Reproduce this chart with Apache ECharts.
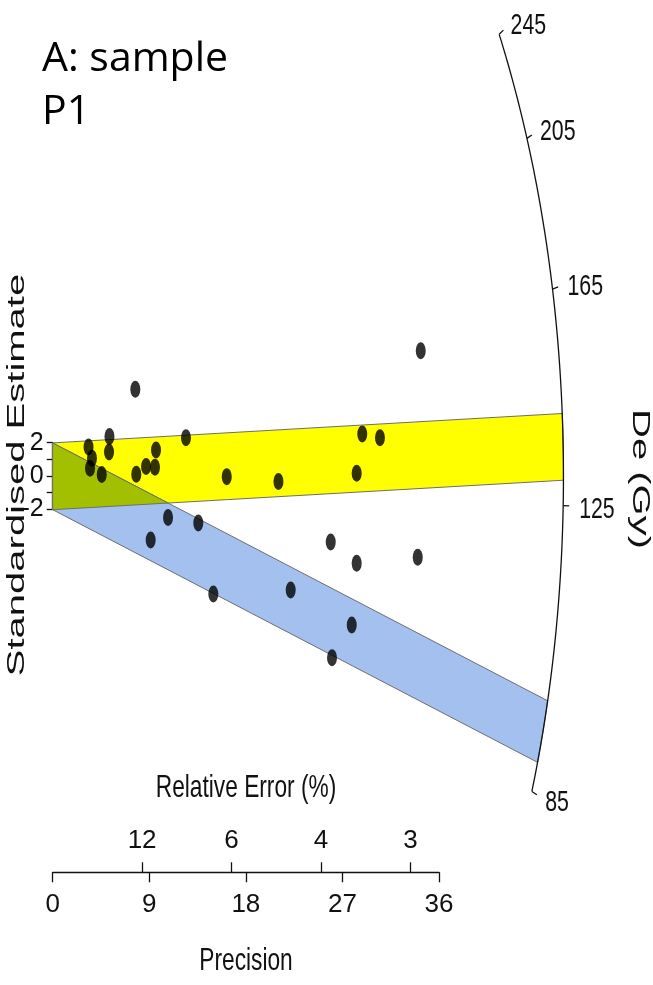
<!DOCTYPE html>
<html>
<head>
<meta charset="utf-8">
<script src="https://cdn.jsdelivr.net/npm/echarts@6/dist/echarts.min.js"></script>
<style>
  html, body { margin: 0; padding: 0; background: #fff; }
  #chart { width: 653px; height: 985px; }
</style>
</head>
<body>
<div id="chart"></div>
<script>
// radial plot of De values (sample P1): each aliquot as precision (1/se) vs standardised estimate
const precision = [7.70, 3.34, 5.29, 5.25, 3.66, 3.48, 4.57, 9.63, 8.70, 9.53, 7.79, 12.42, 16.22, 21.04,
  10.75, 13.57, 9.13, 14.97, 22.18, 25.91, 28.33, 34.02, 27.87, 26.03, 34.30, 28.85, 30.50, 28.33]
const stdEstimate = [5.21, 1.75, 2.38, 1.46, 1.08, 0.48, 0.11, 1.57, 0.58, 0.54, 0.12, 2.31, -0.02, -0.31,
  -2.47, -2.80, -3.81, -7.05, -6.81, -3.93, -5.21, -4.85, -8.90, -10.86, 7.52, 2.53, 2.31, 0.18]

const centralDe = 129.7          // reference value of the z-scale (Gy)
const componentDe = [134.6, 92.8] // the two shaded ±2 bands
const componentColors = ["#ffff00", "#a3c0ee"]
const deTicks = [85, 125, 165, 205, 245]
const relErrorTicks = [12, 6, 4, 3]
const precisionTicks = [0, 9, 18, 27, 36]

// arc of the De scale: ellipse in (precision, z) units
const ARC_X = 47.6
const ARC_Z = 54.5
const HALF = 2
// the source figure was squeezed sideways, so text is drawn condensed
const SQUEEZE = 0.71

const SANS = "'Liberation Sans', Arial, sans-serif"

const arcPoint = (u) => {
  const x = 1 / Math.sqrt(1 / (ARC_X * ARC_X) + (u * u) / (ARC_Z * ARC_Z))
  return [x, u * x]
}
// where the line z = c + s*x meets the arc
const arcHit = (c, s) => {
  const A = 1 / (ARC_X * ARC_X) + (s * s) / (ARC_Z * ARC_Z)
  const B = (2 * c * s) / (ARC_Z * ARC_Z)
  const C = (c * c) / (ARC_Z * ARC_Z) - 1
  const x = (-B + Math.sqrt(B * B - 4 * A * C)) / (2 * A)
  return [x, c + s * x]
}
const bandPolygon = (de) => {
  const s = Math.log(de / centralDe)
  const top = arcHit(HALF, s)
  const bot = arcHit(-HALF, s)
  const u0 = top[1] / top[0]
  const u1 = bot[1] / bot[0]
  const pts = [[0, HALF], top]
  for (let k = 1; k < 16; k++) pts.push(arcPoint(u0 + ((u1 - u0) * k) / 16))
  pts.push(bot, [0, -HALF])
  return pts
}
// triangle where the two bands overlap (upper band's lower edge meets lower band's upper edge)
const overlapPolygon = () => {
  const s1 = Math.log(componentDe[0] / centralDe)
  const s2 = Math.log(componentDe[1] / centralDe)
  const x = (2 * HALF) / (s1 - s2)
  return [[0, HALF], [x, -HALF + s1 * x], [0, -HALF]]
}
// overlap looks like the two transparent fills multiplied together
const multiply = (a, b) => {
  const ca = echarts.color.parse(a)
  const cb = echarts.color.parse(b)
  return echarts.color.stringify([0, 1, 2].map((i) => Math.round((ca[i] * cb[i]) / 255)).concat(1), "rgba")
}

const chart = echarts.init(document.getElementById("chart"), null, { renderer: "canvas" })

chart.setOption({
  animation: false,
  backgroundColor: "#ffffff",
  grid: [
    { left: 52.7, width: 536.5, top: 8.7, bottom: 174.7, containLabel: false, outerBoundsMode: "none" },
    { left: 52.7, width: 386.3, bottom: 112.7, height: 20, containLabel: false, outerBoundsMode: "none" },
    { left: 52.7, width: 10, top: 442.7, bottom: 475.7, containLabel: false, outerBoundsMode: "none" },
  ],
  xAxis: [
    { gridIndex: 0, type: "value", min: 0, max: 50, show: false },
    {
      gridIndex: 1, type: "value", position: "bottom", min: precisionTicks[0],
      max: precisionTicks[precisionTicks.length - 1], interval: precisionTicks[1] - precisionTicks[0],
      axisLine: { lineStyle: { color: "#111", width: 1.3 } },
      axisTick: { length: 10, lineStyle: { color: "#111", width: 1.3 } },
      axisLabel: { margin: 20, color: "#111", fontFamily: SANS, fontSize: 26 },
      splitLine: { show: false },
    },
    {
      gridIndex: 1, type: "value", position: "bottom", min: 0, max: 36,
      axisLine: { show: false },
      axisTick: {
        inside: true, length: 10, lineStyle: { color: "#111", width: 1.3 },
        customValues: relErrorTicks.map((r) => 100 / r),
      },
      axisLabel: {
        inside: true, margin: 18, color: "#111", fontFamily: SANS, fontSize: 26,
        customValues: relErrorTicks.map((r) => 100 / r),
        formatter: (v) => String(Math.round(100 / v)),
      },
      splitLine: { show: false },
    },
    { gridIndex: 2, type: "value", show: false },
  ],
  yAxis: [
    { gridIndex: 0, type: "value", min: -20, max: 28, show: false },
    { gridIndex: 1, type: "value", show: false },
    {
      gridIndex: 2, type: "value", min: -2, max: 2, interval: 2,
      axisLine: { show: true, lineStyle: { color: "#111", width: 1.3 } },
      axisTick: { show: true, length: 6, lineStyle: { color: "#111", width: 1.3 } },
      minorTick: { show: true, splitNumber: 2, length: 6, lineStyle: { color: "#111", width: 1.3 } },
      axisLabel: { margin: 9, color: "#111", fontFamily: SANS, fontSize: 25 },
      splitLine: { show: false },
    },
  ],
  graphic: [
    {
      type: "text", left: 42, top: 33,
      style: { text: "A: sample\nP1", fill: "#000", font: "41px 'Open Sans', 'Noto Sans', sans-serif", lineHeight: 53 },
    },
    {
      type: "text", x: 246, y: 788, scaleX: SQUEEZE,
      style: { text: "Relative Error (%)", fill: "#111", font: "32px " + SANS, align: "center", verticalAlign: "middle" },
    },
    {
      type: "text", x: 246, y: 961, scaleX: SQUEEZE,
      style: { text: "Precision", fill: "#111", font: "32px " + SANS, align: "center", verticalAlign: "middle" },
    },
    {
      type: "text", x: 17, y: 475, rotation: Math.PI / 2, scaleY: 0.62,
      style: { text: "Standardised Estimate", fill: "#111", font: "40px " + SANS, align: "center", verticalAlign: "middle" },
    },
    {
      type: "text", x: 640, y: 479, rotation: -Math.PI / 2, scaleY: 0.62,
      style: { text: "De (Gy)", fill: "#111", font: "40px " + SANS, align: "center", verticalAlign: "middle" },
    },
  ],
  series: [
    {
      type: "custom", xAxisIndex: 0, yAxisIndex: 0, z: 1,
      data: componentDe.map((d) => [d]),
      renderItem: (params, api) => {
        const i = params.dataIndex
        const pts = bandPolygon(componentDe[i]).map((p) => api.coord(p))
        return {
          type: "polygon",
          shape: { points: pts },
          style: { fill: componentColors[i], stroke: "#6e6e6e", lineWidth: 1 },
        }
      },
    },
    {
      type: "custom", xAxisIndex: 0, yAxisIndex: 0, z: 1,
      data: [[componentDe[0]]],
      renderItem: (params, api) => ({
        type: "polygon",
        z2: 10,
        shape: { points: overlapPolygon().map((p) => api.coord(p)) },
        style: { fill: multiply(componentColors[0], componentColors[1]), stroke: "#6e6e6e", lineWidth: 1 },
      }),
    },
    {
      type: "custom", xAxisIndex: 0, yAxisIndex: 0, z: 2,
      data: [[deTicks[0]]],
      renderItem: (params, api) => {
        const u0 = Math.log(deTicks[0] / centralDe)
        const u1 = Math.log(deTicks[deTicks.length - 1] / centralDe)
        const pts = []
        for (let k = 0; k <= 80; k++) pts.push(api.coord(arcPoint(u0 + ((u1 - u0) * k) / 80)))
        return { type: "polyline", shape: { points: pts }, style: { stroke: "#111", lineWidth: 1.3, fill: null } }
      },
    },
    {
      type: "custom", xAxisIndex: 0, yAxisIndex: 0, z: 2,
      data: deTicks.map((d) => [d]),
      renderItem: (params, api) => {
        const de = deTicks[params.dataIndex]
        const p = api.coord(arcPoint(Math.log(de / centralDe)))
        const o = api.coord([0, 0])
        const dx = p[0] - o[0]
        const dy = p[1] - o[1]
        const len = Math.hypot(dx, dy)
        const ux = dx / len
        const uy = dy / len
        return {
          type: "group",
          children: [
            {
              type: "line",
              shape: { x1: p[0], y1: p[1], x2: p[0] + ux * 6, y2: p[1] + uy * 6 },
              style: { stroke: "#111", lineWidth: 1.3 },
            },
            {
              type: "text",
              x: p[0] + ux * 16, y: p[1] + uy * 16 + 3, scaleX: SQUEEZE,
              style: { text: String(de), fill: "#111", font: "30px " + SANS, align: "left", verticalAlign: "middle" },
            },
          ],
        }
      },
    },
    {
      type: "scatter", xAxisIndex: 0, yAxisIndex: 0, z: 3,
      symbol: "circle", symbolSize: [10, 17],
      itemStyle: { color: "#000" },
      data: precision.map((x, i) => [x, stdEstimate[i]]),
    },
  ],
})
</script>
</body>
</html>
